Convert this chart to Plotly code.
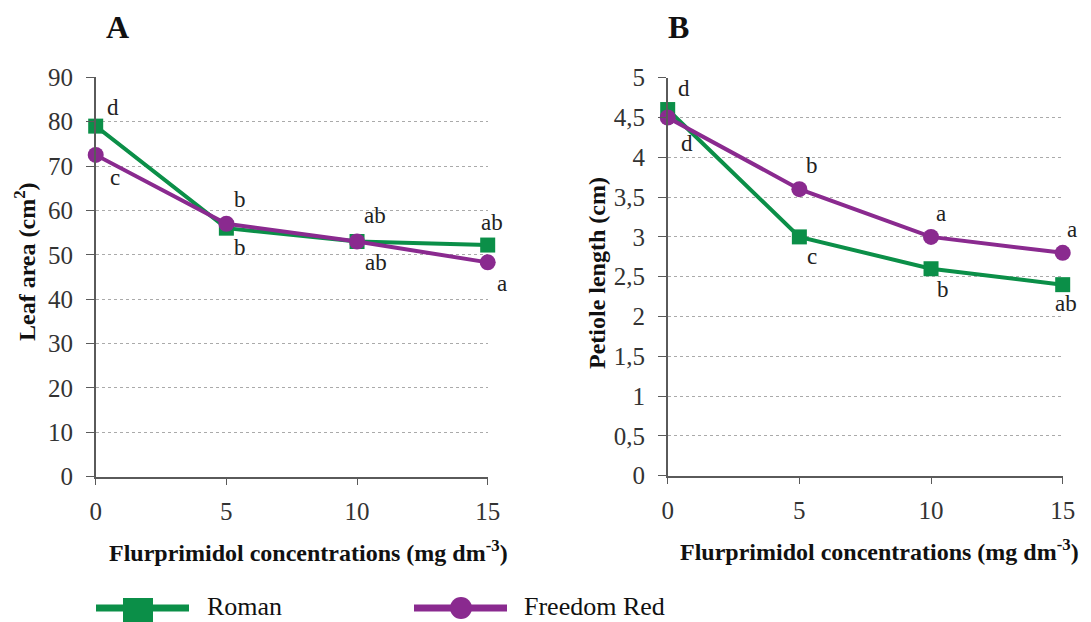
import plotly.graph_objects as go

conc = [0, 5, 10, 15]
leaf_roman = [79, 56, 53, 52.2]
leaf_freedom = [72.5, 57, 53, 48.3]
pet_roman = [4.6, 3.0, 2.6, 2.4]
pet_freedom = [4.5, 3.6, 3.0, 2.8]

leaf_roman_letters = ["d", "b", "ab", "ab"]
leaf_freedom_letters = ["c", "b", "ab", "a"]
pet_roman_letters = ["d", "c", "b", "ab"]
pet_freedom_letters = ["d", "b", "a", "a"]

leaf_ticks = [0, 10, 20, 30, 40, 50, 60, 70, 80, 90]
pet_ticks = [0, 0.5, 1, 1.5, 2, 2.5, 3, 3.5, 4, 4.5, 5]
pet_ticktext = ["0", "0,5", "1", "1,5", "2", "2,5", "3", "3,5", "4", "4,5", "5"]

GREEN = "#0b8f48"
PURPLE = "#8a2a8f"
FONT = "Liberation Serif, Times New Roman, Tinos, DejaVu Serif, serif"
TXT = "#222222"

fig = go.Figure()

def add_series(x, y, color, symbol, name, xa, ya):
    fig.add_trace(go.Scatter(
        x=x, y=y, mode="lines+markers", name=name,
        line=dict(color=color, width=4),
        marker=dict(color=color, symbol=symbol, size=15 if symbol == "square" else 16),
        xaxis=xa, yaxis=ya, cliponaxis=False, showlegend=False))

add_series(conc, leaf_roman, GREEN, "square", "Roman", "x", "y")
add_series(conc, leaf_freedom, PURPLE, "circle", "Freedom Red", "x", "y")
add_series(conc, pet_roman, GREEN, "square", "Roman", "x2", "y2")
add_series(conc, pet_freedom, PURPLE, "circle", "Freedom Red", "x2", "y2")

annotations = []
def letter(xv, yv, t, xs, ys, xref, yref):
    annotations.append(dict(x=xv, y=yv, xref=xref, yref=yref, text=t, showarrow=False,
                            xshift=xs, yshift=ys, font=dict(family=FONT, size=23, color=TXT)))

leaf_r_shift = [(17, 19), (14, -19), (18, 26), (4, 23)]
leaf_f_shift = [(19, -23), (14, 24), (19, -21), (14, -21)]
for i in range(4):
    letter(conc[i], leaf_roman[i], leaf_roman_letters[i], *leaf_r_shift[i], "x", "y")
    letter(conc[i], leaf_freedom[i], leaf_freedom_letters[i], *leaf_f_shift[i], "x", "y")

pet_r_shift = [(16, 21), (13, -20), (12, -21), (3, -19)]
pet_f_shift = [(19, -26), (13, 24), (10, 23), (9, 23)]
for i in range(4):
    letter(conc[i], pet_roman[i], pet_roman_letters[i], *pet_r_shift[i], "x2", "y2")
    letter(conc[i], pet_freedom[i], pet_freedom_letters[i], *pet_f_shift[i], "x2", "y2")

W, H = 1091, 622
def px(x): return x / W
def py(y): return 1 - y / H

def ptext(x, y, t, size, bold=False, angle=0, xanchor="center"):
    annotations.append(dict(x=px(x), y=py(y), xref="paper", yref="paper", text=("<b>%s</b>" % t) if bold else t,
                            showarrow=False, textangle=angle, xanchor=xanchor, yanchor="middle",
                            font=dict(family=FONT, size=size, color="#111111")))

ptext(117, 27, "A", 32, bold=True)
ptext(678, 27, "B", 32, bold=True)
ptext(25, 262, "Leaf area (cm<sup>2</sup>)", 24, bold=True, angle=-90)
ptext(597, 273, "Petiole length (cm)", 24, bold=True, angle=-90)
ptext(308, 551, "Flurprimidol concentrations (mg dm<sup>-3</sup>)", 24, bold=True)
ptext(879, 550, "Flurprimidol concentrations (mg dm<sup>-3</sup>)", 24, bold=True)
ptext(205, 606, "Roman", 26, xanchor="left")
ptext(522, 606, "Freedom Red", 26, xanchor="left")

shapes = [
    dict(type="line", xref="paper", yref="paper", x0=px(96), x1=px(189), y0=py(608), y1=py(608),
         line=dict(color=GREEN, width=7)),
    dict(type="rect", xref="paper", yref="paper", x0=px(123), x1=px(153), y0=py(598), y1=py(622),
         fillcolor=GREEN, line=dict(width=0)),
    dict(type="line", xref="paper", yref="paper", x0=px(414), x1=px(507), y0=py(608), y1=py(608),
         line=dict(color=PURPLE, width=7)),
    dict(type="circle", xref="paper", yref="paper", x0=px(450), x1=px(472), y0=py(597), y1=py(619),
         fillcolor=PURPLE, line=dict(width=0)),
]

axis_common = dict(showline=True, linecolor="#5a5a5a", linewidth=1.5, zeroline=False, automargin=False,
                   tickfont=dict(family=FONT, size=25, color="#333333"), ticks="outside",
                   tickcolor="#5a5a5a")

fig.update_layout(
    template="none",
    width=W, height=H, margin=dict(l=0, r=0, t=0, b=0, pad=0), autosize=False,
    paper_bgcolor="white", plot_bgcolor="white",
    xaxis=dict(domain=[px(95.7), px(487.7)], range=[0, 15], tickvals=conc, ticklen=7,
               showgrid=False, ticklabelstandoff=5, anchor="y", **axis_common),
    yaxis=dict(domain=[py(476.7), py(77.3)], range=[0, 90], tickvals=leaf_ticks, ticklen=8,
               showgrid=True, gridcolor="#aaaaaa", griddash="dot", gridwidth=1,
               ticklabelstandoff=8, anchor="x", **axis_common),
    xaxis2=dict(domain=[px(667.7), px(1062.7)], range=[0, 15], tickvals=conc, ticklen=7,
                showgrid=False, ticklabelstandoff=5, anchor="y2", **axis_common),
    yaxis2=dict(domain=[py(475.7), py(77.7)], range=[0, 5], tickvals=pet_ticks, ticktext=pet_ticktext,
                ticklen=8, showgrid=True, gridcolor="#aaaaaa", griddash="dot", gridwidth=1,
                ticklabelstandoff=8, anchor="x2", **axis_common),
    annotations=annotations, shapes=shapes, showlegend=False,
)

fig.write_html("out.html", config={"displayModeBar": False},
               post_script="document.body.style.margin='0';document.body.style.overflow='hidden';")
